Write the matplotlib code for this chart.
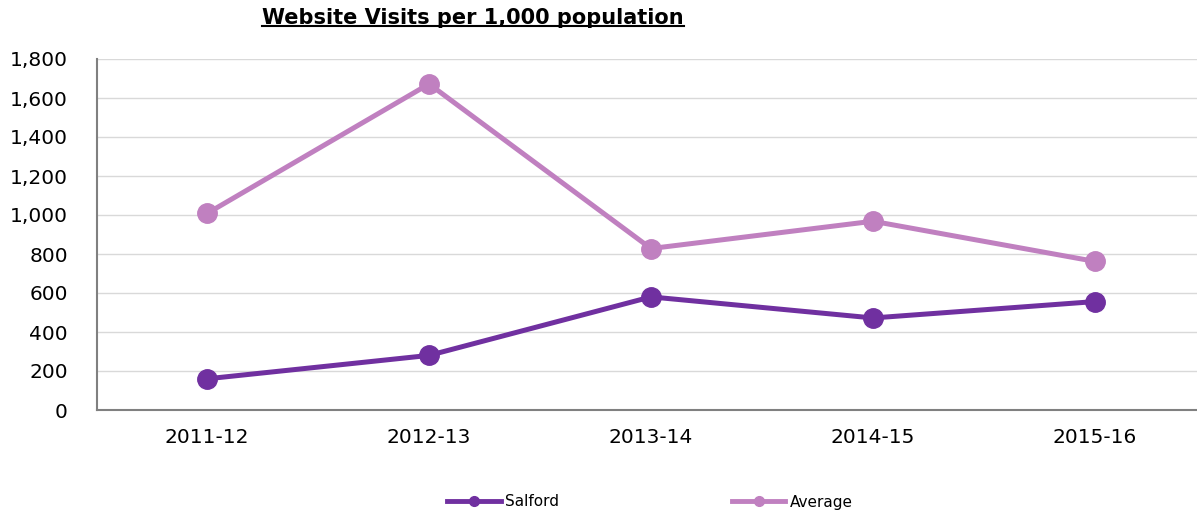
import matplotlib
matplotlib.use("Agg")
import matplotlib.pyplot as plt
from matplotlib.lines import Line2D
from matplotlib.ticker import FuncFormatter

# data
years = ['2011-12', '2012-13', '2013-14', '2014-15', '2015-16']
salford = [160, 280, 580, 472, 556]
average = [1008, 1672, 828, 968, 762]

salford_col = '#7030A0'
average_col = '#C080C0'

fig = plt.figure(figsize=(11.97, 5.13), dpi=100)
ax = fig.add_axes([97/1197, 1 - 410/513, 1100/1197, 351/513])

x = list(range(len(years)))
ax.plot(x, average, color=average_col, lw=3.6, marker='o', ms=14, label='Average', zorder=3)
ax.plot(x, salford, color=salford_col, lw=3.6, marker='o', ms=14, label='Salford', zorder=3)

ax.set_xlim(-0.496, 4.46)
ax.set_ylim(0, 1800)
ax.set_yticks(range(0, 1801, 200))
ax.yaxis.set_major_formatter(FuncFormatter(lambda v, p: f'{int(v):,}'))
ax.set_xticks(x)
ax.set_xticklabels(years)
ax.tick_params(axis='both', length=0, labelsize=14.5, colors='black')
ax.tick_params(axis='y', pad=21)
ax.tick_params(axis='x', pad=13)

ax.grid(axis='y', color='#D9D9D9', lw=1)
ax.set_axisbelow(True)
for s in ['top', 'right']:
    ax.spines[s].set_visible(False)
ax.spines['left'].set_color('#808080')
ax.spines['bottom'].set_color('#808080')
ax.spines['left'].set_linewidth(1.5)
ax.spines['bottom'].set_linewidth(1.5)

# title, underlined by hand
t = fig.text(473/1197, 1 - 18/513, 'Website Visits per 1,000 population',
             ha='center', va='center', fontsize=15, fontweight='bold')
fig.canvas.draw()
bb = t.get_window_extent().transformed(fig.transFigure.inverted())
fig.add_artist(Line2D([bb.x0, bb.x1], [bb.y0 + 0.003, bb.y0 + 0.003],
                      color='black', lw=1.5, transform=fig.transFigure))

# legend at the bottom
handles = [Line2D([], [], color=salford_col, lw=3.5, marker='o', ms=7),
           Line2D([], [], color=average_col, lw=3.5, marker='o', ms=7)]
fig.legend(handles, ['Salford', 'Average'], loc='center', ncol=2,
           bbox_to_anchor=(650/1197, 1 - 502/513), frameon=False,
           fontsize=11, columnspacing=11.3, handlelength=3.5, handletextpad=0.3)

fig.savefig('out.png', dpi=100)
